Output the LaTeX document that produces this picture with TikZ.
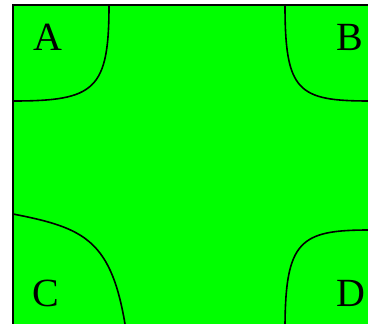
\documentclass[tikz,border=0pt]{standalone}
\usepackage{fontspec}
\setmainfont{Liberation Serif}
\usetikzlibrary{positioning}

\definecolor{fieldgreen}{RGB}{0,255,0}
\tikzset{
  corner/.style={black, line width=1.6pt},
  letter/.style={anchor=base, inner sep=0pt, font=\fontsize{40}{40}\selectfont},
}

\begin{document}
\begin{tikzpicture}[x=1pt, y=-1pt]
\useasboundingbox (0,0) rectangle (368,324);
\clip (0,0) rectangle (368,324);
% field
\draw[fill=fieldgreen, line width=2pt] (13,5) rectangle (390,345);

% corner curves
\draw[corner] (109,5) .. controls (109,90) and (95,101) .. (13,101);
\draw[corner] (285,5) .. controls (285,92) and (298,101) .. (370,101);
\draw[corner] (13,214) .. controls (85,228) and (112,240) .. (126,330);
\draw[corner] (285,330) .. controls (285,240) and (300,230) .. (370,230);

% corner letters
\node[letter] (a) at (48,50) {A};
\node[letter] (b) at (350,50) {B};
\node[letter] (c) at (46,307) {C};
\node[letter] (d) at (351,307) {D};
\end{tikzpicture}
\end{document}
